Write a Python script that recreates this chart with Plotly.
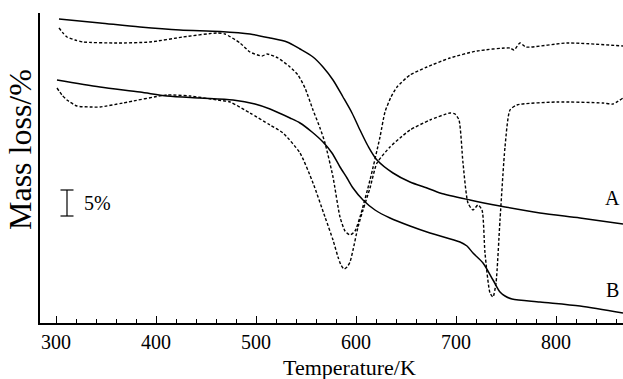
import plotly.graph_objects as go

# Temperature (K) and signal (arbitrary height units, 26 units = 5 %)
tg_a_T = [303, 344, 384, 424, 464, 494, 514, 531, 544, 557, 567, 577, 587, 596, 604, 612, 621, 637, 654, 671, 684,
          714, 744, 784, 824, 867]
tg_a_y = [304, 300, 296, 293, 291.5, 289, 285, 281, 274, 266, 256, 243, 226, 210, 193, 177, 163, 150, 141, 135, 130,
          123, 117, 110, 105, 99]

tg_b_T = [301, 344, 384, 411, 444, 477, 499, 514, 534, 544, 556, 567, 576, 584, 591, 597, 607, 619, 634, 654, 674,
          704, 711, 717, 727, 737, 744, 749, 756, 784, 824, 867]
tg_b_y = [243, 236, 231, 227, 225, 223, 219, 214, 205, 200, 191, 181, 170, 156, 145, 135, 123, 113, 105, 97, 90,
          81, 77, 70, 60, 43, 31, 27, 24, 21, 17, 10]

dtg_a_T = [303, 307, 311, 319, 327, 361, 394, 427, 461, 469, 484, 494, 506, 511, 522, 534, 542, 549, 557, 564, 569,
           577, 584, 589, 594, 599, 604, 614, 624, 629, 635, 641, 654, 671, 694, 721, 754, 758, 764, 770, 811, 867]
dtg_a_y = [295, 290, 286, 283, 281, 280, 281, 286, 290, 289, 280, 271, 267, 269, 265, 256, 248, 235, 213, 195, 180,
           146, 106, 92, 88, 92, 106, 143, 186, 211, 226, 236, 248, 256, 265, 272, 275, 273, 280, 276, 280, 277]

dtg_b_T = [301, 306, 311, 321, 334, 344, 367, 411, 434, 461, 474, 494, 514, 527, 544, 557, 569, 577, 582, 585, 588,
           591, 594, 597, 602, 607, 614, 621, 634, 644, 654, 674, 694, 699, 703, 707, 712, 717, 722, 726, 729, 734,
           737, 740, 744, 749, 754, 761, 801, 847, 857, 867]
dtg_b_y = [235, 228, 223, 217, 216, 216, 220, 228, 227, 223, 221, 210, 198, 190, 170, 140, 106, 83, 66, 58, 54,
           56, 61, 73, 96, 113, 135, 160, 176, 185, 193, 203, 210, 209, 203, 160, 120, 113, 118, 113, 70, 30,
           26, 40, 103, 176, 213, 218, 221, 220, 219, 225]

x_ticks = [300, 400, 500, 600, 700, 800]

FONT = "Liberation Serif, Times New Roman, DejaVu Serif, serif"
fig = go.Figure()
solid = dict(color="black", width=1.5)
dashed = dict(color="black", width=1.4, dash="3px,2px")
fig.add_trace(go.Scatter(x=tg_a_T, y=tg_a_y, mode="lines", line=dict(**solid, shape="spline", smoothing=0.8)))
fig.add_trace(go.Scatter(x=tg_b_T, y=tg_b_y, mode="lines", line=dict(**solid, shape="spline", smoothing=0.8)))
fig.add_trace(go.Scatter(x=dtg_a_T, y=dtg_a_y, mode="lines", line=dict(**dashed, shape="spline", smoothing=0.6)))
fig.add_trace(go.Scatter(x=dtg_b_T, y=dtg_b_y, mode="lines", line=dict(**dashed, shape="spline", smoothing=0.6)))

fig.update_layout(
    width=623, height=379,
    margin=dict(l=40, r=0, t=13, b=56),
    paper_bgcolor="white", plot_bgcolor="white",
    showlegend=False,
    font=dict(family=FONT, size=20, color="black"),
)
fig.update_xaxes(
    range=[284, 867], tickvals=x_ticks, ticks="inside", ticklen=7, tickwidth=1.2, tickcolor="black",
    minor=dict(dtick=20, tick0=300, ticks="inside", ticklen=4, tickwidth=1, tickcolor="black"),
    showline=True, linecolor="black", linewidth=1.6, showgrid=False, zeroline=False,
    tickfont=dict(family=FONT, size=20),
)
fig.update_yaxes(
    range=[0, 310], showticklabels=False, ticks="", showline=True, linecolor="black", linewidth=1.6,
    showgrid=False, zeroline=False,
)

# scale bar: 26 units = 5 %
bar_x, bar_top, bar_len, cap = 311, 133, 26, 6.5
fig.add_shape(type="line", x0=bar_x, x1=bar_x, y0=bar_top - bar_len, y1=bar_top, line=dict(color="black", width=1.2))
for yy in (bar_top, bar_top - bar_len):
    fig.add_shape(type="line", x0=bar_x - cap, x1=bar_x + cap, y0=yy, y1=yy, line=dict(color="black", width=1.2))
fig.add_annotation(x=bar_x + 15, y=bar_top - bar_len / 2, text="5%", showarrow=False, xanchor="left",
                   font=dict(family=FONT, size=20))

fig.add_annotation(x=856, y=125, text="A", showarrow=False, font=dict(family=FONT, size=20))
fig.add_annotation(x=856, y=33, text="B", showarrow=False, font=dict(family=FONT, size=20))

fig.add_annotation(xref="paper", yref="paper", x=(349 - 40) / 583, y=-(367 - 323) / 310, text="Temperature/K",
                   showarrow=False, font=dict(family=FONT, size=22), yanchor="middle")
fig.add_annotation(xref="paper", yref="paper", x=-(40 - 20) / 583, y=(323 - 150) / 310, text="Mass loss/%",
                   textangle=-90, showarrow=False, font=dict(family=FONT, size=32), xanchor="center", yanchor="middle")

fig.write_html("out.html")
